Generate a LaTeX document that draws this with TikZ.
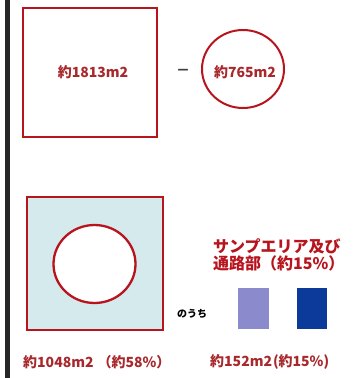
\documentclass[tikz,border=0pt]{standalone}
\usepackage{fontspec}
\newfontfamily\jp{Noto Sans CJK JP}
\definecolor{dred}{HTML}{B8141E}
\definecolor{tred}{HTML}{A8282C}
\definecolor{lcyan}{HTML}{D4EAEC}
\definecolor{lpurp}{HTML}{8A8ACC}
\definecolor{dblue}{HTML}{0C3A9A}
\begin{document}
\begin{tikzpicture}[x=1pt,y=-1pt,
  lab/.style={font=\jp\bfseries\fontsize{14}{16}\selectfont, text=tred, inner sep=0pt},
  redtxt/.style={font=\jp\bfseries\fontsize{16}{16.5}\selectfont, text=dred, inner sep=0pt, align=left},
  blk/.style={font=\jp\bfseries\fontsize{10}{12}\selectfont, inner sep=0pt}]
\useasboundingbox (0,0) rectangle (358,378);
\fill[black!85] (5,0) rectangle (10,378);
% top
\draw[dred, line width=2pt] (23,8) rectangle (157,137);
\node[lab] (a) at (93,72) {約1813m2};
\node[lab, text=black!75] (minus) at (183,72) {－};
\draw[dred, line width=2pt] (243,69) ellipse (41 and 39);
\node[lab] (b) at (245,72) {約765m2};
% bottom
\draw[dred, line width=2.6pt, fill=lcyan] (27,197) rectangle (163,330);
\draw[dred, line width=2.3pt, fill=white] (94.5,264) ellipse (41 and 39);
\node[redtxt, anchor=west] (c) at (213,255) {サンプエリア及び\\通路部（約15\%）};
\node[blk] (d) at (192,314) {のうち};
\fill[lpurp] (238,288) rectangle (269,329);
\fill[dblue] (297,288) rectangle (327,329);
\node[lab, anchor=west] (e) at (23,362) {約1048m2\kern4pt（約58\%）};
\node[lab, anchor=west] (f) at (210,362) {約152m2\kern1pt(約15\%)};
\end{tikzpicture}
\end{document}
